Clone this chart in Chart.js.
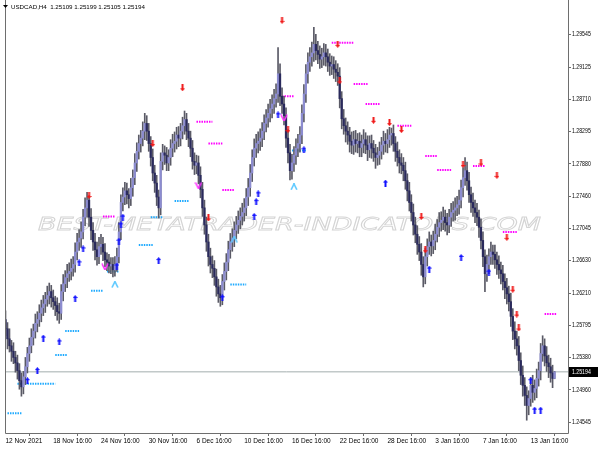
<!DOCTYPE html>
<html>
<head>
<meta charset="utf-8">
<script src="https://cdn.jsdelivr.net/npm/chart.js@4.4.1/dist/chart.umd.min.js"></script>
<style>
  html, body { margin: 0; padding: 0; background: #fff; }
  #wrap { width: 600px; height: 450px; }
</style>
</head>
<body>
<div id="wrap"><canvas id="myChart" width="600" height="450"></canvas></div>
<script>
const symbolTitle = 'USDCAD,H4  1.25109 1.25199 1.25105 1.25194';
const watermark = 'BEST-METATRADER-INDICATORS.COM';

// H4 candles, one entry per bar
const opens = [
  1.2587, 1.2575, 1.2562, 1.2553, 1.2546, 1.2538, 1.2531, 1.2521, 1.2508, 1.2500, 1.2513, 1.2526,
  1.2543, 1.2553, 1.2564, 1.2572, 1.2582, 1.2587, 1.2595, 1.2602, 1.2607, 1.2613, 1.2618, 1.2623,
  1.2615, 1.2610, 1.2605, 1.2597, 1.2595, 1.2623, 1.2633, 1.2641, 1.2646, 1.2649, 1.2653, 1.2658,
  1.2674, 1.2687, 1.2692, 1.2700, 1.2719, 1.2731, 1.2741, 1.2719, 1.2702, 1.2687, 1.2677, 1.2668,
  1.2681, 1.2684, 1.2674, 1.2664, 1.2661, 1.2656, 1.2658, 1.2651, 1.2658, 1.2668, 1.2700, 1.2738,
  1.2745, 1.2753, 1.2748, 1.2743, 1.2757, 1.2770, 1.2789, 1.2804, 1.2814, 1.2821, 1.2830, 1.2840,
  1.2830, 1.2814, 1.2796, 1.2776, 1.2763, 1.2745, 1.2731, 1.2791, 1.2802, 1.2799, 1.2789, 1.2796,
  1.2808, 1.2814, 1.2817, 1.2825, 1.2821, 1.2830, 1.2837, 1.2845, 1.2830, 1.2821, 1.2808, 1.2791,
  1.2786, 1.2789, 1.2773, 1.2755, 1.2731, 1.2709, 1.2687, 1.2668, 1.2658, 1.2653, 1.2642, 1.2629,
  1.2620, 1.2615, 1.2636, 1.2649, 1.2661, 1.2677, 1.2687, 1.2692, 1.2702, 1.2709, 1.2715, 1.2720,
  1.2725, 1.2731, 1.2745, 1.2757, 1.2776, 1.2796, 1.2808, 1.2814, 1.2817, 1.2821, 1.2830, 1.2840,
  1.2847, 1.2853, 1.2859, 1.2865, 1.2872, 1.2878, 1.2904, 1.2875, 1.2865, 1.2850, 1.2821, 1.2802,
  1.2779, 1.2789, 1.2799, 1.2808, 1.2814, 1.2825, 1.2853, 1.2878, 1.2904, 1.2919, 1.2926, 1.2931,
  1.2942, 1.2934, 1.2929, 1.2923, 1.2926, 1.2931, 1.2926, 1.2919, 1.2914, 1.2916, 1.2910, 1.2906,
  1.2901, 1.2872, 1.2846, 1.2837, 1.2830, 1.2825, 1.2817, 1.2812, 1.2819, 1.2814, 1.2817, 1.2809,
  1.2814, 1.2819, 1.2812, 1.2806, 1.2814, 1.2808, 1.2802, 1.2796, 1.2799, 1.2804, 1.2812, 1.2817,
  1.2814, 1.2819, 1.2825, 1.2827, 1.2814, 1.2804, 1.2796, 1.2789, 1.2786, 1.2779, 1.2766, 1.2753,
  1.2738, 1.2725, 1.2709, 1.2697, 1.2684, 1.2674, 1.2658, 1.2642, 1.2668, 1.2681, 1.2687, 1.2682,
  1.2689, 1.2697, 1.2706, 1.2712, 1.2715, 1.2719, 1.2712, 1.2709, 1.2719, 1.2725, 1.2728, 1.2731,
  1.2735, 1.2741, 1.2757, 1.2770, 1.2779, 1.2766, 1.2748, 1.2738, 1.2731, 1.2725, 1.2719, 1.2706,
  1.2689, 1.2668, 1.2646, 1.2658, 1.2668, 1.2674, 1.2671, 1.2664, 1.2658, 1.2651, 1.2646, 1.2636,
  1.2628, 1.2620, 1.2610, 1.2591, 1.2572, 1.2562, 1.2553, 1.2534, 1.2515, 1.2502, 1.2489, 1.2476,
  1.2485, 1.2502, 1.2493, 1.2498, 1.2511, 1.2521, 1.2543, 1.2553, 1.2540, 1.2531, 1.2526, 1.2518,
  1.25109
];
const highs = [
  1.2598, 1.2583, 1.2575, 1.2560, 1.2557, 1.2546, 1.2541, 1.2530, 1.2518, 1.2520, 1.2538, 1.2551,
  1.2563, 1.2575, 1.2581, 1.2594, 1.2597, 1.2606, 1.2612, 1.2618, 1.2622, 1.2630, 1.2634, 1.2631,
  1.2625, 1.2617, 1.2615, 1.2608, 1.2632, 1.2645, 1.2650, 1.2658, 1.2660, 1.2665, 1.2668, 1.2686,
  1.2698, 1.2703, 1.2713, 1.2729, 1.2744, 1.2751, 1.2747, 1.2730, 1.2712, 1.2698, 1.2687, 1.2693,
  1.2697, 1.2693, 1.2685, 1.2673, 1.2671, 1.2667, 1.2667, 1.2668, 1.2679, 1.2712, 1.2748, 1.2757,
  1.2764, 1.2763, 1.2756, 1.2769, 1.2780, 1.2801, 1.2815, 1.2825, 1.2831, 1.2842, 1.2853, 1.2850,
  1.2840, 1.2823, 1.2807, 1.2786, 1.2773, 1.2754, 1.2802, 1.2813, 1.2811, 1.2809, 1.2806, 1.2819,
  1.2826, 1.2829, 1.2835, 1.2836, 1.2840, 1.2848, 1.2856, 1.2853, 1.2840, 1.2830, 1.2818, 1.2802,
  1.2799, 1.2798, 1.2784, 1.2764, 1.2741, 1.2719, 1.2697, 1.2679, 1.2669, 1.2663, 1.2652, 1.2639,
  1.2631, 1.2645, 1.2660, 1.2672, 1.2688, 1.2698, 1.2704, 1.2713, 1.2720, 1.2727, 1.2731, 1.2737,
  1.2743, 1.2756, 1.2769, 1.2787, 1.2806, 1.2820, 1.2826, 1.2829, 1.2833, 1.2841, 1.2851, 1.2858,
  1.2865, 1.2871, 1.2877, 1.2884, 1.2891, 1.2938, 1.2917, 1.2886, 1.2875, 1.2860, 1.2832, 1.2813,
  1.2800, 1.2810, 1.2820, 1.2826, 1.2836, 1.2864, 1.2890, 1.2916, 1.2931, 1.2938, 1.2945, 1.2964,
  1.2955, 1.2946, 1.2940, 1.2937, 1.2943, 1.2942, 1.2936, 1.2930, 1.2927, 1.2926, 1.2921, 1.2917,
  1.2912, 1.2881, 1.2858, 1.2847, 1.2842, 1.2835, 1.2829, 1.2830, 1.2831, 1.2827, 1.2828, 1.2825,
  1.2832, 1.2828, 1.2824, 1.2824, 1.2825, 1.2818, 1.2813, 1.2809, 1.2816, 1.2822, 1.2830, 1.2827,
  1.2832, 1.2835, 1.2834, 1.2838, 1.2823, 1.2816, 1.2806, 1.2801, 1.2796, 1.2790, 1.2775, 1.2764,
  1.2748, 1.2736, 1.2719, 1.2708, 1.2694, 1.2685, 1.2668, 1.2679, 1.2691, 1.2700, 1.2696, 1.2701,
  1.2710, 1.2716, 1.2725, 1.2726, 1.2732, 1.2728, 1.2724, 1.2729, 1.2737, 1.2739, 1.2744, 1.2746,
  1.2754, 1.2767, 1.2783, 1.2796, 1.2790, 1.2777, 1.2758, 1.2750, 1.2741, 1.2737, 1.2728, 1.2717,
  1.2700, 1.2677, 1.2670, 1.2678, 1.2687, 1.2683, 1.2683, 1.2674, 1.2669, 1.2661, 1.2657, 1.2646,
  1.2640, 1.2630, 1.2621, 1.2601, 1.2584, 1.2572, 1.2565, 1.2544, 1.2527, 1.2512, 1.2500, 1.2495,
  1.2512, 1.2515, 1.2509, 1.2523, 1.2532, 1.2556, 1.2566, 1.2562, 1.2552, 1.2541, 1.2537, 1.2528,
  1.25199
];
const lows = [
  1.2566, 1.2549, 1.2545, 1.2533, 1.2530, 1.2519, 1.2510, 1.2497, 1.2488, 1.2491, 1.2503, 1.2518,
  1.2533, 1.2544, 1.2554, 1.2563, 1.2571, 1.2578, 1.2584, 1.2592, 1.2596, 1.2604, 1.2607, 1.2603,
  1.2600, 1.2592, 1.2586, 1.2582, 1.2587, 1.2611, 1.2623, 1.2628, 1.2636, 1.2638, 1.2643, 1.2648,
  1.2664, 1.2676, 1.2680, 1.2691, 1.2708, 1.2719, 1.2707, 1.2690, 1.2676, 1.2664, 1.2657, 1.2659,
  1.2671, 1.2663, 1.2655, 1.2650, 1.2647, 1.2646, 1.2642, 1.2643, 1.2649, 1.2660, 1.2690, 1.2727,
  1.2735, 1.2736, 1.2731, 1.2734, 1.2746, 1.2761, 1.2778, 1.2794, 1.2803, 1.2811, 1.2819, 1.2818,
  1.2804, 1.2785, 1.2766, 1.2751, 1.2734, 1.2718, 1.2722, 1.2780, 1.2787, 1.2779, 1.2779, 1.2786,
  1.2797, 1.2803, 1.2807, 1.2810, 1.2811, 1.2820, 1.2826, 1.2819, 1.2810, 1.2797, 1.2781, 1.2774,
  1.2775, 1.2762, 1.2744, 1.2720, 1.2697, 1.2675, 1.2656, 1.2647, 1.2641, 1.2631, 1.2617, 1.2609,
  1.2604, 1.2606, 1.2625, 1.2638, 1.2650, 1.2666, 1.2675, 1.2681, 1.2691, 1.2698, 1.2704, 1.2709,
  1.2714, 1.2721, 1.2734, 1.2746, 1.2765, 1.2785, 1.2796, 1.2802, 1.2805, 1.2810, 1.2819, 1.2829,
  1.2835, 1.2842, 1.2847, 1.2853, 1.2861, 1.2867, 1.2863, 1.2853, 1.2838, 1.2809, 1.2789, 1.2767,
  1.2768, 1.2778, 1.2787, 1.2797, 1.2803, 1.2814, 1.2842, 1.2867, 1.2892, 1.2907, 1.2914, 1.2920,
  1.2922, 1.2917, 1.2911, 1.2912, 1.2915, 1.2914, 1.2907, 1.2902, 1.2903, 1.2898, 1.2894, 1.2889,
  1.2860, 1.2833, 1.2826, 1.2816, 1.2813, 1.2803, 1.2801, 1.2800, 1.2803, 1.2802, 1.2797, 1.2797,
  1.2802, 1.2801, 1.2792, 1.2796, 1.2795, 1.2791, 1.2782, 1.2786, 1.2787, 1.2794, 1.2800, 1.2803,
  1.2802, 1.2809, 1.2812, 1.2804, 1.2791, 1.2785, 1.2776, 1.2775, 1.2766, 1.2755, 1.2740, 1.2727,
  1.2714, 1.2696, 1.2686, 1.2671, 1.2663, 1.2644, 1.2629, 1.2633, 1.2656, 1.2671, 1.2669, 1.2672,
  1.2677, 1.2687, 1.2694, 1.2701, 1.2703, 1.2701, 1.2696, 1.2699, 1.2707, 1.2714, 1.2715, 1.2721,
  1.2723, 1.2731, 1.2745, 1.2760, 1.2754, 1.2738, 1.2725, 1.2720, 1.2712, 1.2708, 1.2693, 1.2678,
  1.2655, 1.2623, 1.2636, 1.2646, 1.2658, 1.2658, 1.2653, 1.2645, 1.2640, 1.2633, 1.2625, 1.2614,
  1.2607, 1.2598, 1.2578, 1.2561, 1.2549, 1.2541, 1.2521, 1.2503, 1.2488, 1.2476, 1.2457, 1.2464,
  1.2475, 1.2480, 1.2483, 1.2486, 1.2501, 1.2509, 1.2533, 1.2527, 1.2520, 1.2512, 1.2506, 1.2499,
  1.25105
];
const closes = [
  1.2575, 1.2562, 1.2553, 1.2546, 1.2538, 1.2531, 1.2521, 1.2508, 1.2500, 1.2513, 1.2526, 1.2543,
  1.2553, 1.2564, 1.2572, 1.2582, 1.2587, 1.2595, 1.2602, 1.2607, 1.2613, 1.2618, 1.2623, 1.2615,
  1.2610, 1.2605, 1.2597, 1.2595, 1.2623, 1.2633, 1.2641, 1.2646, 1.2649, 1.2653, 1.2658, 1.2674,
  1.2687, 1.2692, 1.2700, 1.2719, 1.2731, 1.2741, 1.2719, 1.2702, 1.2687, 1.2677, 1.2668, 1.2681,
  1.2684, 1.2674, 1.2664, 1.2661, 1.2656, 1.2658, 1.2651, 1.2658, 1.2668, 1.2700, 1.2738, 1.2745,
  1.2753, 1.2748, 1.2743, 1.2757, 1.2770, 1.2789, 1.2804, 1.2814, 1.2821, 1.2830, 1.2840, 1.2830,
  1.2814, 1.2796, 1.2776, 1.2763, 1.2745, 1.2731, 1.2791, 1.2802, 1.2799, 1.2789, 1.2796, 1.2808,
  1.2814, 1.2817, 1.2825, 1.2821, 1.2830, 1.2837, 1.2845, 1.2830, 1.2821, 1.2808, 1.2791, 1.2786,
  1.2789, 1.2773, 1.2755, 1.2731, 1.2709, 1.2687, 1.2668, 1.2658, 1.2653, 1.2642, 1.2629, 1.2620,
  1.2615, 1.2636, 1.2649, 1.2661, 1.2677, 1.2687, 1.2692, 1.2702, 1.2709, 1.2715, 1.2720, 1.2725,
  1.2731, 1.2745, 1.2757, 1.2776, 1.2796, 1.2808, 1.2814, 1.2817, 1.2821, 1.2830, 1.2840, 1.2847,
  1.2853, 1.2859, 1.2865, 1.2872, 1.2878, 1.2904, 1.2875, 1.2865, 1.2850, 1.2821, 1.2802, 1.2779,
  1.2789, 1.2799, 1.2808, 1.2814, 1.2825, 1.2853, 1.2878, 1.2904, 1.2919, 1.2926, 1.2931, 1.2942,
  1.2934, 1.2929, 1.2923, 1.2926, 1.2931, 1.2926, 1.2919, 1.2914, 1.2916, 1.2910, 1.2906, 1.2901,
  1.2872, 1.2846, 1.2837, 1.2830, 1.2825, 1.2817, 1.2812, 1.2819, 1.2814, 1.2817, 1.2809, 1.2814,
  1.2819, 1.2812, 1.2806, 1.2814, 1.2808, 1.2802, 1.2796, 1.2799, 1.2804, 1.2812, 1.2817, 1.2814,
  1.2819, 1.2825, 1.2827, 1.2814, 1.2804, 1.2796, 1.2789, 1.2786, 1.2779, 1.2766, 1.2753, 1.2738,
  1.2725, 1.2709, 1.2697, 1.2684, 1.2674, 1.2658, 1.2642, 1.2668, 1.2681, 1.2687, 1.2682, 1.2689,
  1.2697, 1.2706, 1.2712, 1.2715, 1.2719, 1.2712, 1.2709, 1.2719, 1.2725, 1.2728, 1.2731, 1.2735,
  1.2741, 1.2757, 1.2770, 1.2779, 1.2766, 1.2748, 1.2738, 1.2731, 1.2725, 1.2719, 1.2706, 1.2689,
  1.2668, 1.2646, 1.2658, 1.2668, 1.2674, 1.2671, 1.2664, 1.2658, 1.2651, 1.2646, 1.2636, 1.2628,
  1.2620, 1.2610, 1.2591, 1.2572, 1.2562, 1.2553, 1.2534, 1.2515, 1.2502, 1.2489, 1.2476, 1.2485,
  1.2502, 1.2493, 1.2498, 1.2511, 1.2521, 1.2543, 1.2553, 1.2540, 1.2531, 1.2526, 1.2518, 1.25109,
  1.25194
];

// time axis: bar index of each label
const timeTickBars = [0, 24, 48, 72, 96, 120, 144, 168, 192, 216, 240, 264];
const timeTickLabels = ['12 Nov 2021', '18 Nov 16:00', '24 Nov 16:00', '30 Nov 16:00', '6 Dec 16:00',
  '10 Dec 16:00', '16 Dec 16:00', '22 Dec 16:00', '28 Dec 16:00', '3 Jan 16:00', '7 Jan 16:00', '13 Jan 16:00'];
const priceTicks = [1.24545, 1.24960, 1.25380, 1.25795, 1.26210, 1.26630, 1.27045,
  1.27460, 1.27880, 1.28295, 1.28710, 1.29125, 1.29545];

// indicator signals (bar index, price)
const buyBars = [11, 16, 19, 27, 35, 37, 39, 56, 57, 58, 59, 77, 109, 125, 126, 127, 137, 150, 191, 213, 229, 243, 264, 266, 269];
const buyPrices = [1.2508, 1.2521, 1.2563, 1.2558, 1.2614, 1.2660, 1.2678, 1.2656, 1.2688, 1.2709, 1.2719, 1.2663,
  1.2615, 1.2720, 1.2739, 1.2749, 1.2851, 1.2806, 1.2763, 1.2652, 1.2667, 1.2648, 1.2508, 1.2470, 1.2470];
const sellBars = [42, 74, 89, 102, 139, 142, 167, 168, 185, 193, 199, 209, 211, 230, 239, 247, 252, 255, 257, 258];
const sellPrices = [1.2747, 1.2814, 1.2886, 1.2718, 1.2973, 1.2832, 1.2942, 1.2895, 1.2844, 1.2841, 1.2832, 1.2720,
  1.2677, 1.2787, 1.2789, 1.2773, 1.2693, 1.2626, 1.2594, 1.2576];
const upTurnBars = [55, 115, 145];
const upTurnPrices = [1.2632, 1.2690, 1.2758];
const downTurnBars = [50, 97, 140];
const downTurnPrices = [1.2655, 1.2760, 1.2847];

// resistance / support stretches: fromBar, toBar, level
const resistFrom  = [49, 96, 102, 109, 139, 164, 175, 181, 197, 211, 217, 235, 250, 271];
const resistTo    = [55, 104, 109, 115, 145, 175, 182, 188, 204, 217, 224, 241, 257, 277];
const resistLevel = [1.2720, 1.2842, 1.2814, 1.2754, 1.2875, 1.2944, 1.2891, 1.2865, 1.2837, 1.2798, 1.2780, 1.2785, 1.2700, 1.2594];
const supportFrom  = [1, 6, 25, 30, 43, 51, 67, 73, 85, 113, 144];
const supportTo    = [8, 25, 31, 37, 49, 57, 74, 79, 92, 121, 151];
const supportLevel = [1.2466, 1.2504, 1.2541, 1.2572, 1.2624, 1.2649, 1.2683, 1.2719, 1.2740, 1.2632, 1.2805];

const lastPrice = closes[closes.length - 1];

const BULL = '#8c8cd0';
const BEAR = '#2a2a5c';
const WICK = '#5a5a66';

function dottedLine(x1, x2, level, color) {
  return {
    type: 'line',
    data: [{ x: x1, y: level }, { x: x2, y: level }],
    borderColor: color,
    borderWidth: 2,
    borderDash: [1.5, 1],
    pointRadius: 0,
    fill: false,
    order: 3,
  };
}

function arrowImage(color, up) {
  const c = document.createElement('canvas');
  c.width = 5; c.height = 7;
  const g = c.getContext('2d');
  g.fillStyle = color;
  g.beginPath();
  if (up) {
    g.moveTo(2.5, 0); g.lineTo(0, 3); g.lineTo(5, 3);
  } else {
    g.moveTo(2.5, 7); g.lineTo(0, 4); g.lineTo(5, 4);
  }
  g.closePath(); g.fill();
  g.fillRect(1.5, up ? 2.5 : 0, 2, 4.5);
  return c;
}

function chevronImage(color, up) {
  const c = document.createElement('canvas');
  c.width = 8; c.height = 7;
  const g = c.getContext('2d');
  g.strokeStyle = color;
  g.lineWidth = 1.6;
  g.beginPath();
  if (up) {
    g.moveTo(1, 6.5); g.lineTo(4, 0.5); g.lineTo(7, 6.5);
  } else {
    g.moveTo(1, 0.5); g.lineTo(4, 6.5); g.lineTo(7, 0.5);
  }
  g.stroke();
  return c;
}

const frameAndText = {
  id: 'frameAndText',
  beforeDatasetsDraw(chart) {
    const { ctx } = chart;
    ctx.save();
    // watermark
    ctx.font = 'italic 20px "DejaVu Sans"';
    const w = ctx.measureText(watermark).width;
    ctx.translate(38, 230);
    ctx.scale(503 / w, 0.85);
    ctx.strokeStyle = '#d4d4d4';
    ctx.lineWidth = 0.9;
    ctx.strokeText(watermark, 0, 0);
    ctx.restore();
  },
  afterDraw(chart) {
    const { ctx, chartArea, scales } = chart;
    ctx.save();
    ctx.strokeStyle = '#6e6e6e';
    ctx.lineWidth = 1;
    ctx.beginPath();
    ctx.moveTo(chartArea.left + 0.5, 0);
    ctx.lineTo(chartArea.left + 0.5, chartArea.bottom + 0.5);
    ctx.lineTo(chartArea.right + 0.5, chartArea.bottom + 0.5);
    ctx.lineTo(chartArea.right + 0.5, 0);
    ctx.stroke();
    // price labels, slightly condensed like the terminal font
    ctx.fillStyle = '#000';
    ctx.font = '6.5px "Liberation Sans"';
    ctx.textBaseline = 'middle';
    priceTicks.forEach(v => {
      const py = scales.y.getPixelForValue(v);
      ctx.save();
      ctx.translate(chartArea.right + 4, py);
      ctx.scale(0.8, 1);
      ctx.fillText(v.toFixed(5), 0, 0);
      ctx.restore();
    });
    // header
    ctx.beginPath();
    ctx.moveTo(3, 5); ctx.lineTo(8, 5); ctx.lineTo(5.5, 8); ctx.closePath(); ctx.fill();
    ctx.font = '6.2px "Liberation Sans"';
    ctx.fillText(symbolTitle, 11, 7);
    // last price box
    const y = Math.round(scales.y.getPixelForValue(lastPrice));
    ctx.fillStyle = '#000';
    ctx.fillRect(chartArea.right + 1, y - 5, 29, 10);
    ctx.fillStyle = '#fff';
    ctx.font = '6.5px "Liberation Sans"';
    ctx.translate(chartArea.right + 4, y);
    ctx.scale(0.8, 1);
    ctx.fillText(lastPrice.toFixed(5), 0, 0);
    ctx.restore();
  }
};

const barIdx = opens.map((_, i) => i);
const isBull = i => closes[i] >= opens[i];

const cts = document.querySelector('#myChart').getContext('2d');

const data = {
  datasets: [
    {
      type: 'scatter',
      data: buyBars.map((b, k) => ({ x: b, y: buyPrices[k] })),
      pointStyle: arrowImage('#1010ff', true),
      order: 0,
    },
    {
      type: 'scatter',
      data: sellBars.map((b, k) => ({ x: b, y: sellPrices[k] })),
      pointStyle: arrowImage('#f01818', false),
      order: 0,
    },
    {
      type: 'scatter',
      data: upTurnBars.map((b, k) => ({ x: b, y: upTurnPrices[k] })),
      pointStyle: chevronImage('#5ac8ff', true),
      order: 0,
    },
    {
      type: 'scatter',
      data: downTurnBars.map((b, k) => ({ x: b, y: downTurnPrices[k] })),
      pointStyle: chevronImage('#ff30ff', false),
      order: 0,
    },
    {
      type: 'bar',
      data: barIdx.map(i => ({ x: i, y: [Math.min(opens[i], closes[i]), Math.max(opens[i], closes[i])] })),
      backgroundColor: ctx => isBull(ctx.dataIndex) ? BULL : BEAR,
      barThickness: 1.6,
      minBarLength: 1,
      grouped: false,
      order: 1,
    },
    {
      type: 'bar',
      data: barIdx.map(i => ({ x: i, y: [lows[i], highs[i]] })),
      backgroundColor: WICK,
      barThickness: 1,
      grouped: false,
      order: 2,
    },
    ...resistLevel.map((lv, k) => dottedLine(resistFrom[k], resistTo[k], lv, '#ff00ff')),
    ...supportLevel.map((lv, k) => dottedLine(supportFrom[k], supportTo[k], lv, '#1eaaff')),
    {
      type: 'line',
      data: [{ x: -1, y: lastPrice }, { x: 284, y: lastPrice }],
      borderColor: '#a3adad',
      borderWidth: 1,
      pointRadius: 0,
      order: 4,
    },
  ],
};

const config = {
  type: 'bar',
  data: data,
  options: {
    responsive: false,
    animation: false,
    events: [],
    layout: { padding: { left: 2, top: 0, right: 0, bottom: 0 } },
    plugins: { legend: { display: false }, tooltip: { enabled: false } },
    scales: {
      x: {
        type: 'linear',
        offset: false,
        min: -0.25,
        max: 282.75,
        afterBuildTicks: scale => { scale.ticks = timeTickBars.map(v => ({ value: v })); },
        afterFit: scale => { scale.height = 17; scale.paddingLeft = 0; scale.paddingRight = 0; },
        grid: { drawOnChartArea: false, tickLength: 3, color: '#6e6e6e' },
        border: { display: false },
        ticks: {
          autoSkip: false,
          maxRotation: 0,
          align: 'start',
          padding: 1,
          color: '#000',
          font: { family: '"Liberation Sans"', size: 6.5 },
          callback: (v) => timeTickLabels[timeTickBars.indexOf(v)],
        },
      },
      y: {
        position: 'right',
        min: 1.24405,
        max: 1.29928,
        afterBuildTicks: scale => { scale.ticks = priceTicks.map(v => ({ value: v })); },
        afterFit: scale => { scale.width = 32; scale.paddingTop = 0; scale.paddingBottom = 0; },
        grid: { drawOnChartArea: false, tickLength: 3, color: '#6e6e6e' },
        border: { display: false },
        ticks: { display: false },
      },
    },
  },
  plugins: [frameAndText],
};

const myChart = new Chart(cts, config);
</script>
</body>
</html>
